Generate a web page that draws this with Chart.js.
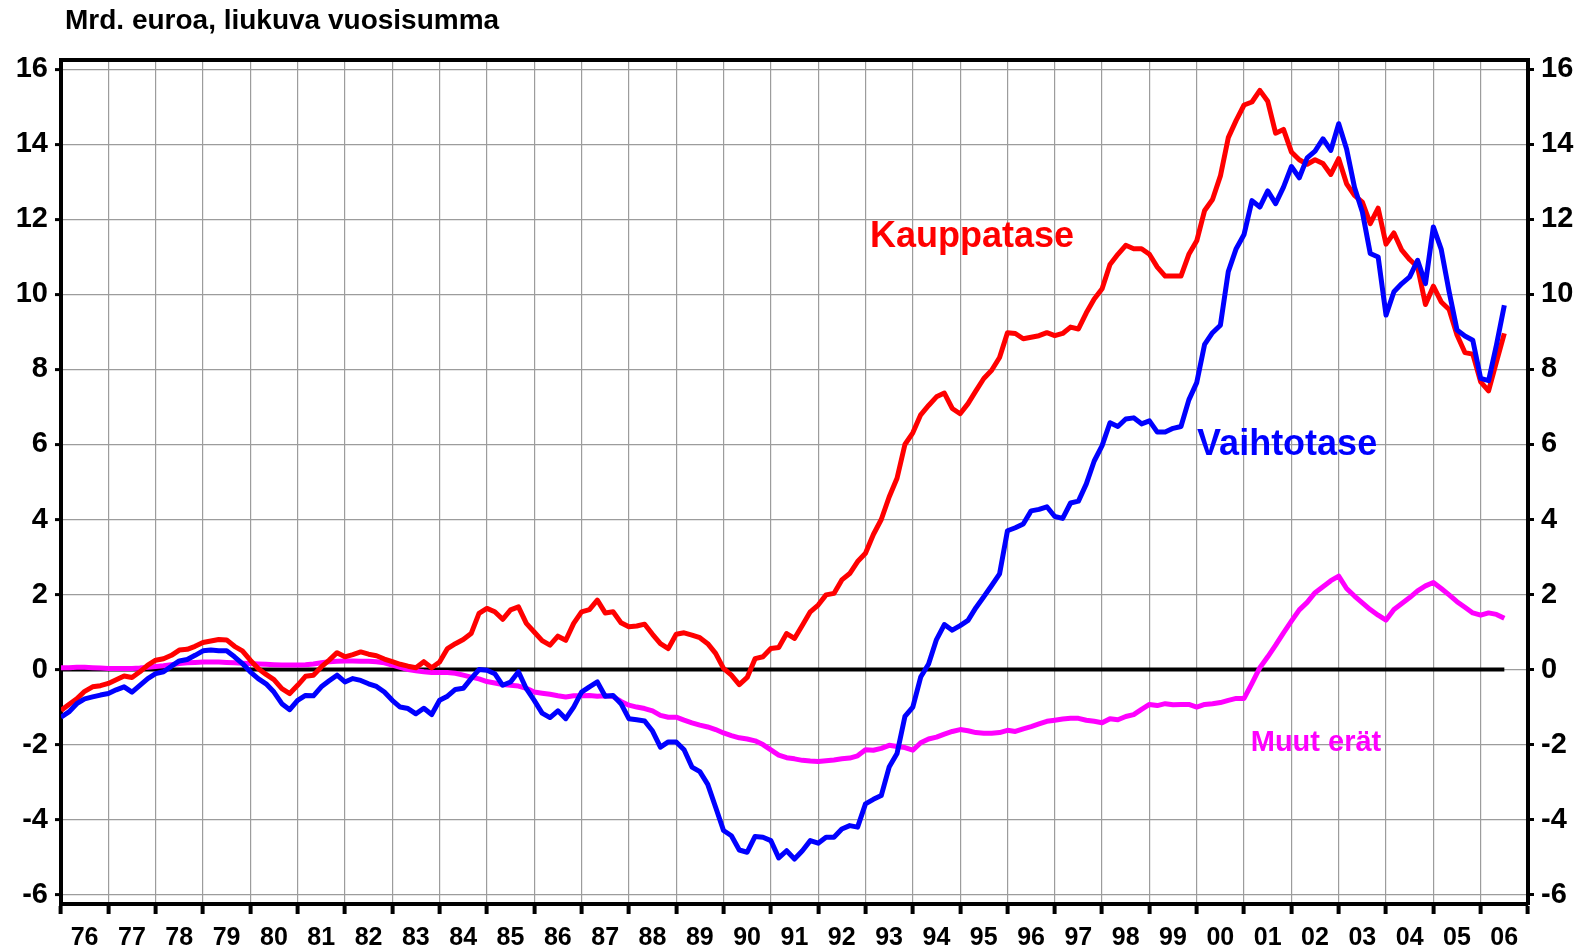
<!DOCTYPE html>
<html>
<head>
<meta charset="utf-8">
<script src="https://cdn.jsdelivr.net/npm/chart.js@4/dist/chart.umd.min.js"></script>
<style>
  html, body { margin: 0; padding: 0; background: #fff; }
  #wrap { width: 1588px; height: 952px; }
</style>
</head>
<body>
<div id="wrap"><canvas id="c" width="1588" height="952"></canvas></div>
<script>
// Bi-monthly readings (6 per year), Jan 1976 .. Jul 2006, Mrd. euroa.
const START_YEAR = 1976;
const STEPS_PER_YEAR = 6;

const yearLabels = ['76','77','78','79','80','81','82','83','84','85','86','87','88','89','90',
  '91','92','93','94','95','96','97','98','99','00','01','02','03','04','05','06'];
const yTicks = [-6, -4, -2, 0, 2, 4, 6, 8, 10, 12, 14, 16];

const kauppatase = [
  -1.09, -0.93, -0.78, -0.58, -0.46, -0.43,
  -0.37, -0.27, -0.17, -0.21, -0.06, 0.12,
  0.25, 0.29, 0.38, 0.52, 0.54, 0.62,
  0.72, 0.76, 0.80, 0.79, 0.62, 0.50,
  0.25, 0.03, -0.13, -0.27, -0.51, -0.64,
  -0.42, -0.18, -0.15, 0.07, 0.25, 0.45,
  0.34, 0.40, 0.47, 0.41, 0.37, 0.28,
  0.21, 0.14, 0.09, 0.05, 0.21, 0.05,
  0.20, 0.56, 0.69, 0.80, 0.96, 1.50,
  1.63, 1.54, 1.34, 1.59, 1.67, 1.23,
  1.00, 0.77, 0.65, 0.89, 0.78, 1.23,
  1.54, 1.60, 1.85, 1.51, 1.54, 1.25,
  1.14, 1.16, 1.21, 0.94, 0.69, 0.56,
  0.94, 0.98, 0.92, 0.85, 0.69, 0.43,
  0.03, -0.15, -0.40, -0.21, 0.29, 0.34,
  0.56, 0.59, 0.96, 0.83, 1.18, 1.54,
  1.72, 1.99, 2.03, 2.39, 2.56, 2.88,
  3.10, 3.60, 4.00, 4.60, 5.10, 6.00,
  6.31, 6.79, 7.04, 7.27, 7.37, 6.96,
  6.82, 7.09, 7.43, 7.76, 7.98, 8.32,
  8.98, 8.96, 8.82, 8.86, 8.90, 8.98,
  8.90, 8.96, 9.13, 9.08, 9.51, 9.88,
  10.15, 10.80, 11.07, 11.31, 11.22, 11.22,
  11.07, 10.73, 10.49, 10.49, 10.49, 11.07,
  11.43, 12.24, 12.53, 13.16, 14.18, 14.64,
  15.05, 15.13, 15.44, 15.15, 14.30, 14.40,
  13.80, 13.59, 13.47, 13.59, 13.49, 13.20,
  13.62, 12.95, 12.64, 12.46, 11.89, 12.30,
  11.34, 11.64, 11.18, 10.93, 10.73, 9.73,
  10.22, 9.80, 9.60, 8.92, 8.45, 8.41,
  7.67, 7.43, 8.20, 8.96
];

const vaihtotase = [
  -1.27, -1.13, -0.91, -0.78, -0.73, -0.68,
  -0.64, -0.54, -0.46, -0.60, -0.42, -0.24,
  -0.11, -0.06, 0.09, 0.23, 0.27, 0.38,
  0.50, 0.52, 0.50, 0.50, 0.34, 0.16,
  -0.06, -0.24, -0.38, -0.60, -0.91, -1.07,
  -0.82, -0.69, -0.70, -0.46, -0.30, -0.15,
  -0.33, -0.24, -0.29, -0.38, -0.45, -0.60,
  -0.82, -1.00, -1.04, -1.18, -1.03, -1.20,
  -0.82, -0.71, -0.53, -0.50, -0.24, 0.00,
  -0.02, -0.11, -0.42, -0.33, -0.06, -0.51,
  -0.82, -1.16, -1.28, -1.10, -1.31, -1.00,
  -0.60, -0.46, -0.33, -0.71, -0.69, -0.91,
  -1.31, -1.34, -1.37, -1.64, -2.07, -1.93,
  -1.93, -2.14, -2.60, -2.72, -3.06, -3.67,
  -4.29, -4.43, -4.81, -4.87, -4.45, -4.47,
  -4.56, -5.02, -4.83, -5.05, -4.83, -4.56,
  -4.63, -4.47, -4.47, -4.25, -4.16, -4.20,
  -3.58, -3.46, -3.36, -2.60, -2.24, -1.25,
  -1.00, -0.20, 0.15, 0.80, 1.20, 1.05,
  1.17, 1.31, 1.65, 1.94, 2.24, 2.55,
  3.70, 3.78, 3.88, 4.23, 4.27, 4.34,
  4.08, 4.03, 4.44, 4.49, 4.95, 5.56,
  5.97, 6.58, 6.48, 6.68, 6.71, 6.55,
  6.63, 6.33, 6.33, 6.43, 6.48, 7.19,
  7.65, 8.67, 8.98, 9.18, 10.61, 11.22,
  11.60, 12.50, 12.33, 12.76, 12.42, 12.86,
  13.41, 13.11, 13.64, 13.82, 14.15, 13.84,
  14.55, 13.88, 12.86, 12.20, 11.09, 11.00,
  9.45, 10.07, 10.29, 10.47, 10.91, 10.29,
  11.80, 11.20, 10.07, 9.05, 8.89, 8.78,
  7.76, 7.70, 8.65, 9.71
];

const muutErat = [
  0.05, 0.05, 0.06, 0.06, 0.05, 0.04,
  0.03, 0.03, 0.03, 0.03, 0.04, 0.06,
  0.08, 0.10, 0.13, 0.16, 0.18, 0.19,
  0.20, 0.20, 0.20, 0.19, 0.18, 0.17,
  0.16, 0.15, 0.14, 0.13, 0.12, 0.12,
  0.12, 0.13, 0.15, 0.18, 0.21, 0.22,
  0.23, 0.23, 0.22, 0.22, 0.21, 0.18,
  0.12, 0.06, 0.00, -0.03, -0.06, -0.08,
  -0.08, -0.08, -0.10, -0.15, -0.20, -0.25,
  -0.32, -0.36, -0.40, -0.42, -0.44, -0.50,
  -0.60, -0.63, -0.66, -0.70, -0.73, -0.70,
  -0.70, -0.69, -0.71, -0.70, -0.72, -0.85,
  -0.95, -1.00, -1.04, -1.10, -1.22, -1.27,
  -1.27, -1.35, -1.42, -1.48, -1.53, -1.60,
  -1.69, -1.76, -1.82, -1.85, -1.90, -2.00,
  -2.14, -2.28, -2.35, -2.38, -2.42, -2.44,
  -2.45, -2.43, -2.41, -2.38, -2.36, -2.30,
  -2.14, -2.15, -2.10, -2.02, -2.05, -2.08,
  -2.15, -1.95, -1.85, -1.80, -1.72, -1.65,
  -1.60, -1.63, -1.68, -1.70, -1.70, -1.68,
  -1.62, -1.65, -1.58, -1.52, -1.45, -1.38,
  -1.35, -1.32, -1.30, -1.30, -1.35, -1.38,
  -1.42, -1.31, -1.34, -1.25, -1.20, -1.06,
  -0.93, -0.96, -0.91, -0.94, -0.93, -0.93,
  -1.00, -0.93, -0.91, -0.88, -0.82, -0.77,
  -0.77, -0.37, 0.05, 0.34, 0.65, 0.98,
  1.29, 1.59, 1.79, 2.05, 2.21, 2.37,
  2.49, 2.16, 1.96, 1.78, 1.60, 1.45,
  1.32, 1.60, 1.76, 1.92, 2.10, 2.23,
  2.32, 2.16, 1.99, 1.81, 1.66, 1.51,
  1.45, 1.51, 1.47, 1.37
];

// time axis (decimal years) for the readings above
const periods = kauppatase.map((_, i) => START_YEAR + i / STEPS_PER_YEAR);
const toPoints = vals => vals.map((v, i) => ({ x: periods[i], y: v }));
const zeroLine = [
  { x: periods[0], y: 0 },
  { x: periods[periods.length - 1], y: 0 }
];

const FONT = "'Liberation Sans', Arial, Helvetica, sans-serif";

// In-plot series names, placed in data coordinates.
const seriesNotes = [
  { text: 'Kauppatase', x: 1995.25, y: 11.27, color: '#ff0000', size: 36 },
  { text: 'Vaihtotase', x: 2001.91, y: 5.73, color: '#0000ff', size: 36 },
  { text: 'Muut erät', x: 2002.52, y: -2.16, color: '#ff00ff', size: 29 }
];

const decorations = {
  id: 'decorations',
  afterDatasetsDraw(chart) {
    const { ctx, chartArea: a, scales } = chart;
    ctx.save();
    // top and right frame edges
    ctx.strokeStyle = '#000';
    ctx.lineWidth = 4;
    ctx.beginPath();
    ctx.moveTo(a.left - 2, a.top);
    ctx.lineTo(a.right, a.top);
    ctx.lineTo(a.right, a.bottom);
    ctx.stroke();
    ctx.textAlign = 'center';
    ctx.textBaseline = 'alphabetic';
    seriesNotes.forEach(n => {
      ctx.font = 'bold ' + n.size + 'px ' + FONT;
      ctx.fillStyle = n.color;
      ctx.fillText(n.text, scales.x.getPixelForValue(n.x), scales.y.getPixelForValue(n.y));
    });
    ctx.restore();
  },
  afterDraw(chart) {
    const ctx = chart.ctx;
    ctx.save();
    ctx.font = 'bold 28px ' + FONT;
    ctx.fillStyle = '#000';
    ctx.textAlign = 'left';
    ctx.textBaseline = 'alphabetic';
    ctx.fillText('Mrd. euroa, liukuva vuosisumma', 65, 29);
    ctx.restore();
  }
};

const GRID = '#9c9c9c';
const yAxisCommon = {
  type: 'linear',
  min: -6.25,
  max: 16.25,
  afterBuildTicks: s => { s.ticks = yTicks.map(v => ({ value: v })); },
  ticks: { color: '#000', font: { family: FONT, size: 29, weight: 'bold' }, padding: 7 },
  border: { color: '#000', width: 4 }
};

new Chart(document.getElementById('c'), {
  type: 'line',
  data: {
    datasets: [
      { label: 'Vaihtotase', data: toPoints(vaihtotase), borderColor: '#0000ff', borderWidth: 5 },
      { label: 'Kauppatase', data: toPoints(kauppatase), borderColor: '#ff0000', borderWidth: 5 },
      { label: 'Muut erät', data: toPoints(muutErat), borderColor: '#ff00ff', borderWidth: 5 },
      { label: 'zero', data: zeroLine, borderColor: '#000', borderWidth: 4 }
    ]
  },
  options: {
    responsive: false,
    animation: false,
    events: [],
    layout: { padding: { top: 60, left: 0, right: 0, bottom: 0 } },
    plugins: { legend: { display: false }, tooltip: { enabled: false } },
    elements: {
      point: { radius: 0 },
      line: { tension: 0, fill: false, borderJoinStyle: 'round', borderCapStyle: 'butt' }
    },
    scales: {
      x: {
        type: 'linear',
        min: 1976,
        max: 2007,
        afterBuildTicks: s => {
          s.ticks = yearLabels.map((_, i) => ({ value: START_YEAR + i }))
            .concat([{ value: START_YEAR + yearLabels.length }]);
        },
        afterFit: s => { s.height = 48; },
        ticks: {
          color: '#000',
          font: { family: FONT, size: 25, weight: 'bold' },
          padding: 9,
          labelOffset: 23.6,
          maxRotation: 0,
          autoSkip: false,
          callback: (v) => yearLabels[Math.round(v) - START_YEAR] || ''
        },
        grid: { color: GRID, lineWidth: 1.2, tickLength: 10, tickWidth: 4, tickColor: '#000' },
        border: { color: '#000', width: 4 }
      },
      y: Object.assign({}, yAxisCommon, {
        position: 'left',
        afterFit: s => { s.width = 61; },
        grid: { color: GRID, lineWidth: 1.2, tickLength: 6, tickWidth: 3, tickColor: '#000' }
      }),
      y2: Object.assign({}, yAxisCommon, {
        position: 'right',
        afterFit: s => { s.width = 60; },
        grid: { drawOnChartArea: false, tickLength: 6, tickWidth: 3, tickColor: '#000' }
      })
    }
  },
  plugins: [decorations]
});
</script>
</body>
</html>
